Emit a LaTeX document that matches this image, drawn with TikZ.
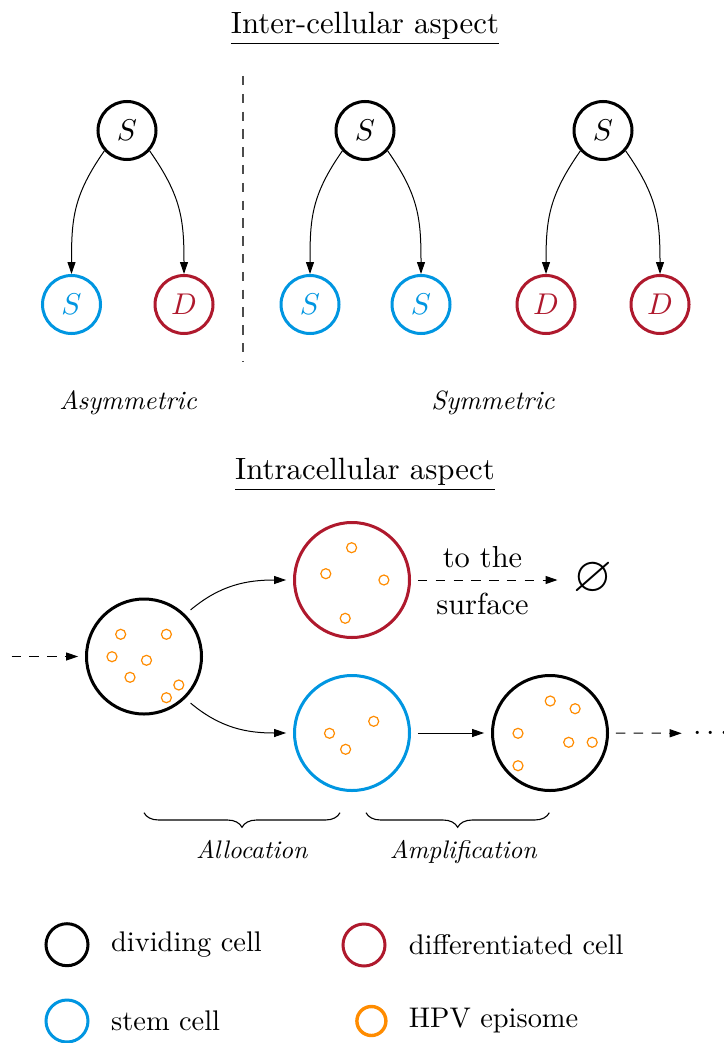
\documentclass[tikz,border=0pt]{standalone}
\usepackage{amssymb}
\usepackage{graphicx}
\usetikzlibrary{arrows.meta,decorations.pathreplacing}
\definecolor{cellblue}{RGB}{0,150,225}
\definecolor{cellred}{RGB}{175,25,45}
\definecolor{epiorange}{RGB}{255,140,0}
\newcommand{\celltxt}[1]{\scalebox{1.5}{$#1$}}
\begin{document}
\begin{tikzpicture}[x=0.5pt,y=-0.5pt,
  cell/.style={circle,draw,line width=1.5pt,inner sep=0pt,minimum size=29pt,font=\fontsize{10}{12}\selectfont},
  bluecell/.style={draw=cellblue,text=cellblue},
  redcell/.style={draw=cellred,text=cellred},
  bigcell/.style={circle,draw,line width=1.5pt,inner sep=0pt,minimum size=57.5pt,outer sep=4.2pt},
  epi/.style={circle,draw=epiorange,line width=0.6pt,inner sep=0pt,minimum size=5pt},
  legcell/.style={circle,draw,line width=1.5pt,inner sep=0pt,minimum size=21pt},
  legepi/.style={circle,draw=epiorange,line width=1.7pt,inner sep=0pt,minimum size=14.5pt},
  conn/.style={line width=0.5pt,-{Triangle[length=6pt,width=4pt]}},
  dconn/.style={conn,dash pattern=on 4.7pt off 4.2pt},
  titletext/.style={font=\fontsize{10}{12}\selectfont,inner sep=0pt,scale=1.54},
  labtext/.style={font=\fontsize{10}{12}\selectfont,inner sep=0pt,scale=1.52},
  italtext/.style={font=\fontsize{10}{12}\selectfont\itshape,inner sep=0pt,scale=1.32},
  braceitaltext/.style={font=\fontsize{10}{12}\selectfont\itshape,inner sep=0pt,scale=1.27},
  legtext/.style={font=\fontsize{10}{12}\selectfont,inner sep=0pt,anchor=west,scale=1.42},
  bracedeco/.style={decorate,decoration={brace,mirror,amplitude=7.3pt},line width=0.55pt}
]
\useasboundingbox[fill=white] (0,0) rectangle (723,1043);

% ---------- Inter-cellular aspect ----------
\node[titletext,anchor=base] (t1) at (365,33.3) {\underline{Inter-cellular aspect}};

\node[cell] (p1) at (127,130.5) {\celltxt{S}};
\node[cell] (p2) at (365,130.5) {\celltxt{S}};
\node[cell] (p3) at (603,130.5) {\celltxt{S}};

\node[cell,bluecell] (a1) at (71.5,304.5) {\celltxt{S}};
\node[cell,redcell]  (a2) at (184,304.5) {\celltxt{D}};
\node[cell,bluecell] (b1) at (310,304.5) {\celltxt{S}};
\node[cell,bluecell] (b2) at (421,304.5) {\celltxt{S}};
\node[cell,redcell]  (b3) at (546,304.5) {\celltxt{D}};
\node[cell,redcell]  (b4) at (660,304.5) {\celltxt{D}};

\draw[conn] (p1.-138) to[out=-125,in=90,looseness=1.1] (a1.north);
\draw[conn] (p1.-42) to[out=-55,in=90,looseness=1.1] (a2.north);
\draw[conn] (p2.-138) to[out=-125,in=90,looseness=1.1] (b1.north);
\draw[conn] (p2.-42) to[out=-55,in=90,looseness=1.1] (b2.north);
\draw[conn] (p3.-138) to[out=-125,in=90,looseness=1.1] (b3.north);
\draw[conn] (p3.-42) to[out=-55,in=90,looseness=1.1] (b4.north);

\coordinate (sepTop) at (243,76);
\coordinate (sepBot) at (243,362);
\draw[line width=0.7pt,dash pattern=on 4.7pt off 4.2pt,black!70] (sepTop) -- (sepBot);

\node[italtext,anchor=base] (asym) at (128,409.3) {Asymmetric};
\node[italtext,anchor=base] (sym) at (493,409.3) {Symmetric};

% ---------- Intracellular aspect ----------
\node[titletext,anchor=base] (t2) at (365,479) {\underline{Intracellular aspect}};

\node[bigcell] (c1) at (144,656.5) {};
\node[bigcell,draw=cellred] (c2) at (352,580) {};
\node[bigcell,draw=cellblue] (c3) at (352,733) {};
\node[bigcell] (c4) at (550,733) {};

\foreach \ex/\ey [count=\i] in {120.7/634.3,166.4/634.3,112/656.7,146.5/660.3,130/677.3,178.8/685,166.4/697.7,
  351.6/547.7,325.8/573.7,383.9/580,345.2/618.3,
  373.7/721.3,329.5/733.3,345.6/749.3,
  550.2/701,575.1/708.7,518/733.3,568.7/742.3,592.2/742.3,518/765.7}
  \node[epi] (e\i) at (\ex,\ey) {};

\coordinate (inflow) at (11.5,656.5);
\draw[dconn] (inflow) -- (c1.west);
\draw[conn] (c1.45) to[out=40,in=180] (c2.west);
\draw[conn] (c1.-45) to[out=-40,in=180] (c3.west);

\node[font=\fontsize{10}{12}\selectfont,scale=2.5,inner sep=0pt,minimum width=13.8pt] (void) at (593,578.5) {$\varnothing$};
\draw[dconn] (c2) -- (void.west |- c2);
\node[labtext,anchor=base] (tothe) at (482.5,567.3) {to the};
\node[labtext,anchor=base] (surf) at (482.5,614) {surface};

\draw[conn] (c3) -- (c4);
\node[labtext,anchor=west,inner xsep=3.55pt,inner ysep=0pt] (dots) at (681.7,733.3) {$\cdots$};
\draw[dconn] (c4.east) -- (dots.west);

\coordinate (br1a) at (144,812.7);
\coordinate (br1b) at (340,812.7);
\coordinate (br2a) at (366,812.7);
\coordinate (br2b) at (549.3,812.7);
\draw[bracedeco] (br1a) -- (br1b);
\draw[bracedeco] (br2a) -- (br2b);
\node[braceitaltext,anchor=base] (alloc) at (251.7,858.3) {Allocation};
\node[braceitaltext,anchor=base] (ampl) at (463.3,858.3) {Amplification};

% ---------- Legend ----------
\node[legcell] (l1) at (67,944.7) {};
\node[legtext] (l1t) at (110.6,944.7) {dividing cell};
\node[legcell,draw=cellred] (l2) at (364,945) {};
\node[legtext] (l2t) at (408.3,945) {differentiated cell};
\node[legcell,draw=cellblue] (l3) at (67,1021) {};
\node[legtext] (l3t) at (110.6,1021) {stem cell};
\node[legepi] (l4) at (371.4,1021) {};
\node[legtext] (l4t) at (408.3,1021) {HPV episome};
\end{tikzpicture}
\end{document}
